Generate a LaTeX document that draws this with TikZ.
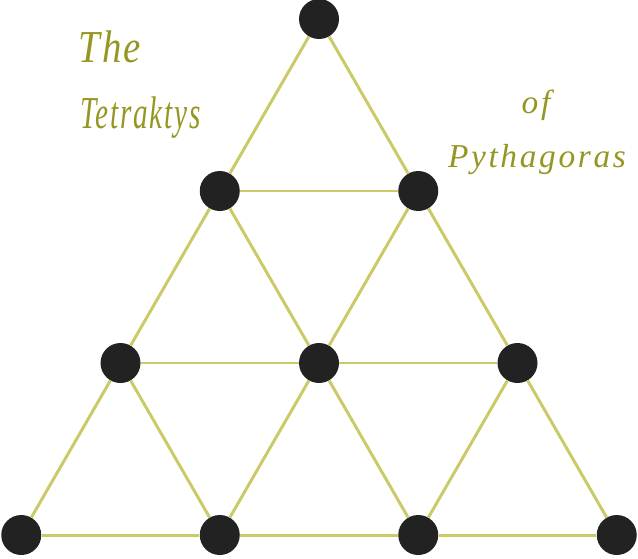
\documentclass[tikz,border=0pt]{standalone}
\usepackage{fontspec}
\newfontfamily\titlefont[LetterSpace=6]{Liberation Serif}
\newfontfamily\subtitlefont[LetterSpace=8]{Liberation Serif}
\definecolor{linegreen}{RGB}{202,202,104}
\definecolor{textolive}{RGB}{150,150,35}
\definecolor{dotblack}{RGB}{34,34,34}
\tikzset{
  dot/.style={circle,fill=dotblack,inner sep=0pt,minimum size=0.8cm},
  stick/.style={draw=linegreen,line width=1.7pt},
  heading/.style={text=textolive,inner sep=0pt}
}
\begin{document}
\begin{tikzpicture}
\useasboundingbox (0,0) rectangle (12.76,11.16);

\node[dot] (a1) at (6.38,10.78) {};
\node[dot] (b1) at (4.395,7.34) {};
\node[dot] (b2) at (8.365,7.34) {};
\node[dot] (c1) at (2.41,3.90) {};
\node[dot] (c2) at (6.38,3.90) {};
\node[dot] (c3) at (10.35,3.90) {};
\node[dot] (d1) at (0.425,0.46) {};
\node[dot] (d2) at (4.395,0.46) {};
\node[dot] (d3) at (8.365,0.46) {};
\node[dot] (d4) at (12.335,0.46) {};

\draw[stick] (a1) -- (b1);
\draw[stick] (a1) -- (b2);
\draw[stick] (b1) -- (b2);
\draw[stick] (b1) -- (c1);
\draw[stick] (b1) -- (c2);
\draw[stick] (b2) -- (c2);
\draw[stick] (b2) -- (c3);
\draw[stick] (c1) -- (c2);
\draw[stick] (c2) -- (c3);
\draw[stick] (c1) -- (d1);
\draw[stick] (c1) -- (d2);
\draw[stick] (c2) -- (d2);
\draw[stick] (c2) -- (d3);
\draw[stick] (c3) -- (d3);
\draw[stick] (c3) -- (d4);
\draw[stick] (d1) -- (d2);
\draw[stick] (d2) -- (d3);
\draw[stick] (d3) -- (d4);

\node[heading,anchor=base west,xscale=0.85] (the) at (1.56,9.92) {\titlefont\itshape\fontsize{26}{31}\selectfont The};
\node[heading,anchor=base west,xscale=0.64] (tetraktys) at (1.6,8.60) {\titlefont\itshape\fontsize{26}{31}\selectfont Tetraktys};
\node[heading,anchor=base] (of) at (10.72,8.90) {\subtitlefont\itshape\fontsize{19}{23}\selectfont of};
\node[heading,anchor=base] (pythagoras) at (10.74,7.82) {\subtitlefont\itshape\fontsize{19}{23}\selectfont Pythagoras};
\end{tikzpicture}
\end{document}
